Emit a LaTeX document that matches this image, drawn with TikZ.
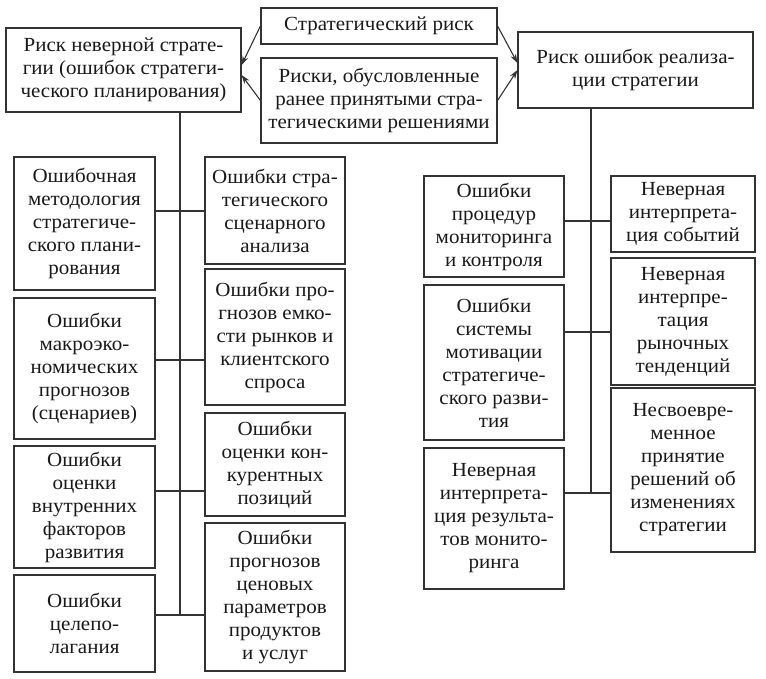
\documentclass[tikz,border=0pt]{standalone}
\usepackage{fontspec}
\setmainfont[FakeStretch=1.05]{Liberation Serif}
\usetikzlibrary{arrows.meta}
\tikzset{
  box/.style={draw=black!80, line width=1.1pt, align=center, inner sep=1pt,
    text=black!90, font=\fontsize{20pt}{23pt}\selectfont},
  sz/.style 2 args={minimum width=#1pt, minimum height=#2pt},
  link/.style={draw=black!80, line width=1.1pt},
  arr/.style={link, -{Stealth[length=9pt,width=6pt]}}
}
\begin{document}
\begin{tikzpicture}[x=1pt,y=-1pt]
  \useasboundingbox (0,0) rectangle (766,679);

  \node[box, sz={236}{36}] (top1) at (379,26) {Стратегический риск};
  \node[box, sz={236}{85}] (top2) at (379,100.5) {Риски, обусловленные\\ранее принятыми стра-\\тегическими решениями};
  \node[box, sz={235}{84}] (lrisk) at (123.5,70) {Риск неверной страте-\\гии (ошибок стратеги-\\ческого планирования)};
  \node[box, sz={235}{76}] (rrisk) at (635.5,70) {Риск ошибок реализа-\\ции стратегии};

  \draw[arr] (top1.west) -- ([yshift=5pt]lrisk.east);
  \draw[arr] (top2.west) -- ([yshift=-5pt]lrisk.east);
  \draw[arr] (top1.east) -- ([yshift=7pt]rrisk.west);
  \draw[arr] (top2.east) -- ([yshift=0pt]rrisk.west);

  \node[box, sz={141}{133}] (la1) at (84.5,223.5) {Ошибочная\\методология\\стратегиче-\\ского плани-\\рования};
  \node[box, sz={141}{141}] (la2) at (84.5,368.5) {Ошибки\\макроэко-\\номических\\прогнозов\\(сценариев)};
  \node[box, sz={141}{122}] (la3) at (84.5,507) {Ошибки\\оценки\\внутренних\\факторов\\развития};
  \node[box, sz={141}{97}] (la4) at (84.5,623.5) {Ошибки\\целепо-\\лагания};

  \node[box, sz={140}{107}] (lb1) at (275,210.5) {Ошибки стра-\\тегического\\сценарного\\анализа};
  \node[box, sz={140}{136}] (lb2) at (275,337) {Ошибки про-\\гнозов емко-\\сти рынков и\\клиентского\\спроса};
  \node[box, sz={140}{103}] (lb3) at (275,464.5) {Ошибки\\оценки кон-\\курентных\\позиций};
  \node[box, sz={140}{148}] (lb4) at (275,597) {Ошибки\\прогнозов\\ценовых\\параметров\\продуктов\\и услуг};

  \node[box, sz={140}{101}] (ra1) at (494,226.5) {Ошибки\\процедур\\мониторинга\\и контроля};
  \node[box, sz={140}{155}] (ra2) at (494,362.5) {Ошибки\\системы\\мотивации\\стратегиче-\\ского разви-\\тия};
  \node[box, sz={140}{141}] (ra3) at (494,518.5) {Неверная\\интерпрета-\\ция результа-\\тов монито-\\ринга};

  \node[box, sz={144}{76}] (rb1) at (683,214) {Неверная\\интерпрета-\\ция событий};
  \node[box, sz={144}{127}] (rb2) at (683,321.5) {Неверная\\интерпре-\\тация\\рыночных\\тенденций};
  \node[box, sz={144}{164}] (rb3) at (683,470) {Несвоевре-\\менное\\принятие\\решений об\\изменениях\\стратегии};

  \foreach \n/\y in {1/211,2/360,3/491,4/615} \coordinate (lj\n) at (180,\y);
  \foreach \n/\y in {1/221,2/332,3/493} \coordinate (rj\n) at (591,\y);

  \draw[link] (lrisk.south -| lj1) -- (lj4);
  \foreach \n in {1,2,3,4} \draw[link] (la\n.east |- lj\n) -- (lb\n.west |- lj\n);

  \draw[link] (rrisk.south -| rj1) -- (rj3);
  \foreach \n in {1,2,3} \draw[link] (ra\n.east |- rj\n) -- (rb\n.west |- rj\n);
\end{tikzpicture}
\end{document}
